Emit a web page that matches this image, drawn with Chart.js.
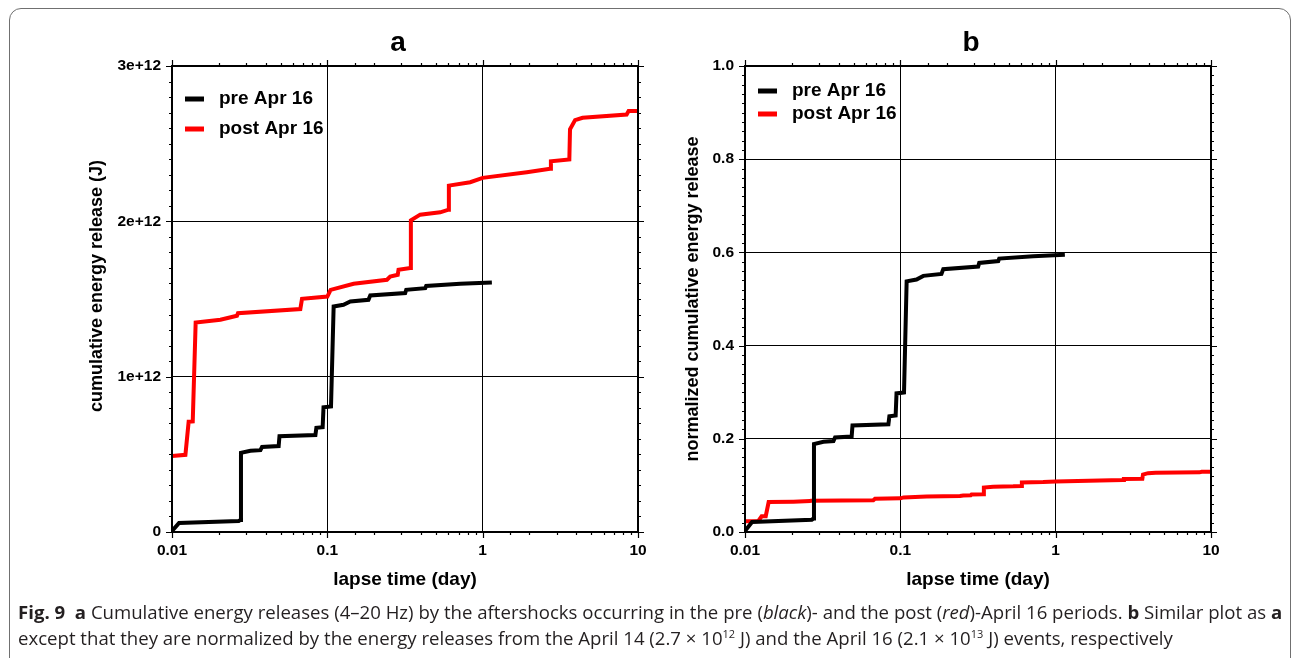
<!DOCTYPE html>
<html>
<head>
<meta charset="utf-8">
<title>Cumulative energy releases</title>
<script src="https://cdn.jsdelivr.net/npm/chart.js@4.4.1/dist/chart.umd.min.js"></script>
<style>
  body { margin: 0; width: 1293px; height: 658px; background: #fff; position: relative; overflow: hidden; }
  .frame { position: absolute; left: 9px; top: 8px; width: 1282px; height: 680px; border: 1.5px solid #707070; border-radius: 12px; box-sizing: border-box; }
  .panel { position: absolute; top: 0; height: 600px; }
  #panelA { left: 0; width: 660px; }
  #panelB { left: 660px; width: 633px; }
  .caption { position: absolute; left: 18px; top: 599px; width: 1275px; white-space: nowrap; font-family: "Open Sans", "Noto Sans", sans-serif; font-size: 18.6px; line-height: 26px; color: #231f20; }
  .caption b { font-weight: 700; }
  .caption sup { font-size: 11px; line-height: 0; }
</style>
</head>
<body>
<div class="frame"></div>
<div class="panel" id="panelA"><canvas id="chartA"></canvas></div>
<div class="panel" id="panelB"><canvas id="chartB"></canvas></div>
<div class="caption"><b>Fig. 9</b>&nbsp; <b>a</b> Cumulative energy releases (4–20 Hz) by the aftershocks occurring in the pre (<i>black</i>)- and the post (<i>red</i>)-April 16 periods. <b>b</b> Similar plot as <b>a</b><br>except that they are normalized by the energy releases from the April 14 (2.7 × 10<sup>12</sup> J) and the April 16 (2.1 × 10<sup>13</sup> J) events, respectively</div>

<script>
// lapse time (day) and cumulative energy (J), pre-April 16 aftershocks
const preTimeDays = [0.0100, 0.0111, 0.0269, 0.0276, 0.0278, 0.0320, 0.0371, 0.0380, 0.0486, 0.0492,
    0.0838, 0.0850, 0.0933, 0.0945, 0.1056, 0.1098, 0.1270, 0.1406, 0.1840, 0.1890,
    0.3170, 0.3220, 0.4270, 0.4330, 0.7170, 1.1460];
const preEnergyJ = [0.006e12, 0.058e12, 0.071e12, 0.078e12, 0.510e12, 0.523e12, 0.527e12, 0.548e12, 0.553e12, 0.617e12,
    0.624e12, 0.671e12, 0.675e12, 0.803e12, 0.808e12, 1.452e12, 1.463e12, 1.484e12, 1.495e12, 1.523e12,
    1.538e12, 1.559e12, 1.570e12, 1.584e12, 1.598e12, 1.606e12];

// post-April 16 aftershocks
const postTimeDays = [0.0100, 0.0122, 0.0128, 0.0136, 0.0142, 0.0205, 0.0262, 0.0266, 0.0670, 0.0687,
    0.1000, 0.1050, 0.1476, 0.2420, 0.2540, 0.2840, 0.2873, 0.3420, 0.3450, 0.3960,
    0.5330, 0.6030, 0.6060, 0.8310, 1.0000, 1.9240, 2.7170, 2.7500, 3.6140, 3.6500,
    3.9350, 4.4000, 8.4500, 8.7000, 10.000];
const postEnergyJ = [0.490e12, 0.497e12, 0.710e12, 0.712e12, 1.348e12, 1.366e12, 1.392e12, 1.409e12, 1.435e12, 1.501e12,
    1.516e12, 1.559e12, 1.598e12, 1.624e12, 1.645e12, 1.656e12, 1.688e12, 1.699e12, 2.006e12, 2.043e12,
    2.058e12, 2.075e12, 2.230e12, 2.252e12, 2.280e12, 2.316e12, 2.338e12, 2.387e12, 2.398e12, 2.592e12,
    2.652e12, 2.667e12, 2.688e12, 2.710e12, 2.710e12];

// mainshock energies used for normalization in panel b
const april14EnergyJ = [2.7e12];
const april16EnergyJ = [2.1e13];

const seriesLabels = ['pre Apr 16', 'post Apr 16'];
const seriesColors = ['#000000', '#ff0000'];
const timeTickLabels = ['0.01', '0.1', '1', '10'];
const energyTickLabels = ['0', '1e+12', '2e+12', '3e+12'];
const normTickLabels = ['0.0', '0.2', '0.4', '0.6', '0.8', '1.0'];

const FONT = '"Liberation Sans", Arial, Helvetica, sans-serif';

function toPoints(times, values, norm) {
    return times.map((t, i) => ({ x: t, y: values[i] / norm }));
}

function isDecade(v) {
    const l = Math.log10(v);
    return Math.abs(l - Math.round(l)) < 1e-6;
}

// frame, tick marks on all four sides, y title, legend and panel letter
const panelDecor = {
    id: 'panelDecor',
    afterDraw(chart, args, opts) {
        const { ctx, chartArea: area } = chart;
        const x = chart.scales.x, y = chart.scales.y;
        ctx.save();
        ctx.strokeStyle = '#000';
        ctx.lineWidth = 1.2;
        ctx.beginPath();
        x.ticks.forEach(t => {
            const px = Math.round(x.getPixelForValue(t.value)) + 0.5;
            const len = isDecade(t.value) ? 6 : 3;
            ctx.moveTo(px, area.bottom); ctx.lineTo(px, area.bottom + len);
            ctx.moveTo(px, area.top); ctx.lineTo(px, area.top - len);
        });
        const n = Math.round((y.max - y.min) / opts.minorStep);
        for (let i = 0; i <= n; i++) {
            const py = Math.round(y.getPixelForValue(y.min + i * opts.minorStep)) + 0.5;
            const len = i % opts.minorPerMajor === 0 ? 6 : 3;
            ctx.moveTo(area.left, py); ctx.lineTo(area.left - len, py);
            ctx.moveTo(area.right, py); ctx.lineTo(area.right + len, py);
        }
        ctx.stroke();

        ctx.lineWidth = 2;
        ctx.strokeRect(area.left, area.top, area.right - area.left, area.bottom - area.top);

        // rotated y axis title
        ctx.save();
        ctx.translate(opts.yTitleX, opts.yTitleY);
        ctx.rotate(-Math.PI / 2);
        ctx.font = 'bold 18px ' + FONT;
        ctx.fillStyle = '#000';
        ctx.textAlign = 'center';
        ctx.textBaseline = 'middle';
        ctx.fillText(opts.yTitle, 0, 0);
        ctx.restore();

        ctx.font = 'bold 19px ' + FONT;
        ctx.textBaseline = 'middle';
        ctx.textAlign = 'left';
        chart.data.datasets.forEach((ds, i) => {
            const ly = area.top + opts.legendTop + i * opts.legendGap;
            ctx.strokeStyle = ds.borderColor;
            ctx.lineWidth = 5;
            ctx.beginPath();
            ctx.moveTo(area.left + 13, ly);
            ctx.lineTo(area.left + 32, ly);
            ctx.stroke();
            ctx.fillStyle = '#000';
            ctx.fillText(ds.label, area.left + 47, ly);
        });

        ctx.font = 'bold 28px ' + FONT;
        ctx.textAlign = 'center';
        ctx.textBaseline = 'alphabetic';
        ctx.fillText(opts.letter, (area.left + area.right) / 2 - 7, area.top - 15);
        ctx.restore();
    }
};

function makePanel(canvasId, cfg) {
    const datasets = cfg.series.map((pts, i) => ({
        label: seriesLabels[i],
        data: pts,
        borderColor: seriesColors[i],
        borderWidth: 4,
        pointRadius: 0,
        tension: 0,
        fill: false,
        borderJoinStyle: 'miter'
    }));

    return new Chart(document.getElementById(canvasId), {
        type: 'line',
        data: { datasets: datasets },
        options: {
            animation: false,
            responsive: true,
            maintainAspectRatio: false,
            layout: { padding: { top: 66, right: cfg.padRight, left: 0, bottom: 0 } },
            plugins: {
                legend: { display: false },
                tooltip: { enabled: false },
                panelDecor: {
                    letter: cfg.letter,
                    minorStep: cfg.minorStep,
                    minorPerMajor: cfg.minorPerMajor,
                    legendTop: cfg.legendTop,
                    legendGap: cfg.legendGap,
                    yTitle: cfg.yTitle,
                    yTitleX: cfg.yTitleX,
                    yTitleY: cfg.yTitleY
                }
            },
            scales: {
                x: {
                    type: 'logarithmic',
                    min: 0.01,
                    max: 10,
                    border: { display: false },
                    grid: {
                        drawTicks: false,
                        lineWidth: 1,
                        color: c => (c.tick && isDecade(c.tick.value) && c.tick.value > 0.011 && c.tick.value < 9.9) ? '#000' : 'rgba(0,0,0,0)'
                    },
                    ticks: {
                        autoSkip: false,
                        maxRotation: 0,
                        padding: 9,
                        color: '#000',
                        font: { family: FONT, size: 15.5, weight: 'bold' },
                        callback: v => {
                            if (!isDecade(v)) return '';
                            return timeTickLabels[Math.round(Math.log10(v)) + 2];
                        }
                    },
                    title: {
                        display: true,
                        text: 'lapse time (day)',
                        color: '#000',
                        font: { family: FONT, size: 19, weight: 'bold' },
                        padding: { top: 0, bottom: 9 }
                    },
                    afterFit: s => { s.height = 68; }
                },
                y: {
                    min: 0,
                    max: cfg.yMax,
                    border: { display: false },
                    grid: {
                        drawTicks: false,
                        lineWidth: 1,
                        color: c => (c.tick && c.tick.value > 0 && c.tick.value < cfg.yMax) ? '#000' : 'rgba(0,0,0,0)'
                    },
                    ticks: {
                        stepSize: cfg.yStep,
                        padding: 11,
                        color: '#000',
                        font: { family: FONT, size: 15.5, weight: 'bold' },
                        callback: v => cfg.yLabels[Math.round(v / cfg.yStep)]
                    },
                    afterFit: s => { s.width = cfg.yWidth; }
                }
            }
        },
        plugins: [panelDecor]
    });
}

makePanel('chartA', {
    letter: 'a',
    series: [toPoints(preTimeDays, preEnergyJ, 1), toPoints(postTimeDays, postEnergyJ, 1)],
    yMax: 3e12,
    yStep: 1e12,
    yLabels: energyTickLabels,
    minorStep: 1e11,
    minorPerMajor: 10,
    yTitle: 'cumulative energy release (J)',
    yTitleX: 97,
    yTitleY: 286,
    yWidth: 172,
    padRight: 22,
    legendTop: 33,
    legendGap: 30
});

makePanel('chartB', {
    letter: 'b',
    series: [toPoints(preTimeDays, preEnergyJ, april14EnergyJ[0]), toPoints(postTimeDays, postEnergyJ, april16EnergyJ[0])],
    yMax: 1,
    yStep: 0.2,
    yLabels: normTickLabels,
    minorStep: 0.02,
    minorPerMajor: 10,
    yTitle: 'normalized cumulative energy release',
    yTitleX: 33,
    yTitleY: 299,
    yWidth: 85,
    padRight: 82,
    legendTop: 25,
    legendGap: 23
});
</script>
</body>
</html>
